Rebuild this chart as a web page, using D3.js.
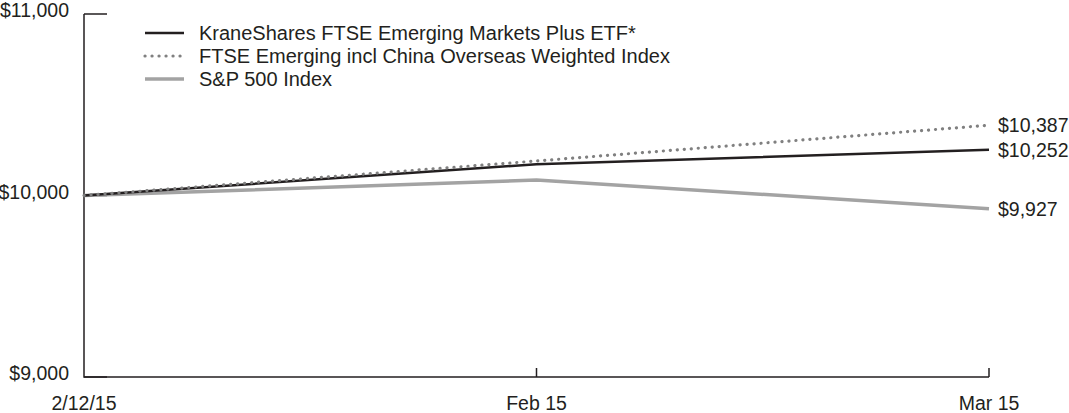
<!DOCTYPE html>
<html><head><meta charset="utf-8">
<script src="https://cdn.jsdelivr.net/npm/d3@7"></script>
<style>body{margin:0;background:#fff;} text{font-family:"Liberation Sans",Arial,Helvetica,sans-serif;fill:#231f20;}</style>
</head><body>
<svg id="c" width="1069" height="413"></svg>
<script>
const dates = ["2/12/15", "Feb 15", "Mar 15"];
const krane = [10000, 10172, 10252];
const ftse = [10000, 10190, 10387];
const sp500 = [10000, 10085, 9927];
const seriesNames = ["KraneShares FTSE Emerging Markets Plus ETF*", "FTSE Emerging incl China Overseas Weighted Index", "S&P 500 Index"];
const yTicks = [9000, 10000, 11000];

const svg = d3.select("#c");
const x = d3.scalePoint().domain(dates).range([84, 989]);
const y = d3.scaleLinear().domain([9000, 11000]).range([377, 14]);
const fs = 19.5;

const series = [
  {name: seriesNames[0], vals: krane, color: "#231f20", w: 2.5, dash: null, cap: "butt"},
  {name: seriesNames[1], vals: ftse, color: "#808080", w: 3.2, dash: "0.1 6.9", cap: "round"},
  {name: seriesNames[2], vals: sp500, color: "#a3a3a3", w: 3.5, dash: null, cap: "butt"}
];

// axes
const ax = svg.append("g").attr("stroke", "#231f20").attr("stroke-width", 1.5).attr("fill", "none");
ax.append("path").attr("d", `M${x(dates[0])},${y(11000)}V${y(9000)}H${x(dates[2])}`);
yTicks.forEach(t => ax.append("line").attr("x1", x(dates[0])).attr("x2", x(dates[0]) + 23).attr("y1", y(t)).attr("y2", y(t)));
dates.slice(1).forEach(d => ax.append("line").attr("x1", x(d)).attr("x2", x(d)).attr("y1", y(9000)).attr("y2", y(9000) - 9));

svg.selectAll(".yl").data(yTicks).join("text")
  .attr("x", 69).attr("y", d => y(d) + 3).attr("text-anchor", "end").attr("font-size", fs)
  .text(d => "$" + d3.format(",")(d));
svg.selectAll(".xl").data(dates).join("text")
  .attr("x", d => x(d)).attr("y", 410).attr("text-anchor", "middle").attr("font-size", fs)
  .text(d => d);

// lines (draw grey first, then black, then dotted)
const line = d3.line().x((d, i) => x(dates[i])).y(d => y(d));
[series[2], series[0], series[1]].forEach(s => {
  svg.append("path").attr("d", line(s.vals)).attr("fill", "none").attr("stroke", s.color)
    .attr("stroke-width", s.w).attr("stroke-dasharray", s.dash).attr("stroke-linecap", s.cap);
});

// end labels
series.forEach(s => {
  const v = s.vals[s.vals.length - 1];
  svg.append("text").attr("x", 998).attr("y", y(v)).attr("dy", "0.36em").attr("font-size", fs)
    .text("$" + d3.format(",")(v));
});

// legend
series.forEach((s, i) => {
  const ly = 33 + i * 23;
  svg.append("line").attr("x1", 145).attr("x2", 184).attr("y1", ly).attr("y2", ly)
    .attr("stroke", s.color).attr("stroke-width", s.w).attr("stroke-dasharray", s.dash).attr("stroke-linecap", s.cap);
  svg.append("text").attr("x", 199).attr("y", ly).attr("dy", "0.36em").attr("font-size", 20)
    .text(s.name);
});
</script>
</body></html>
